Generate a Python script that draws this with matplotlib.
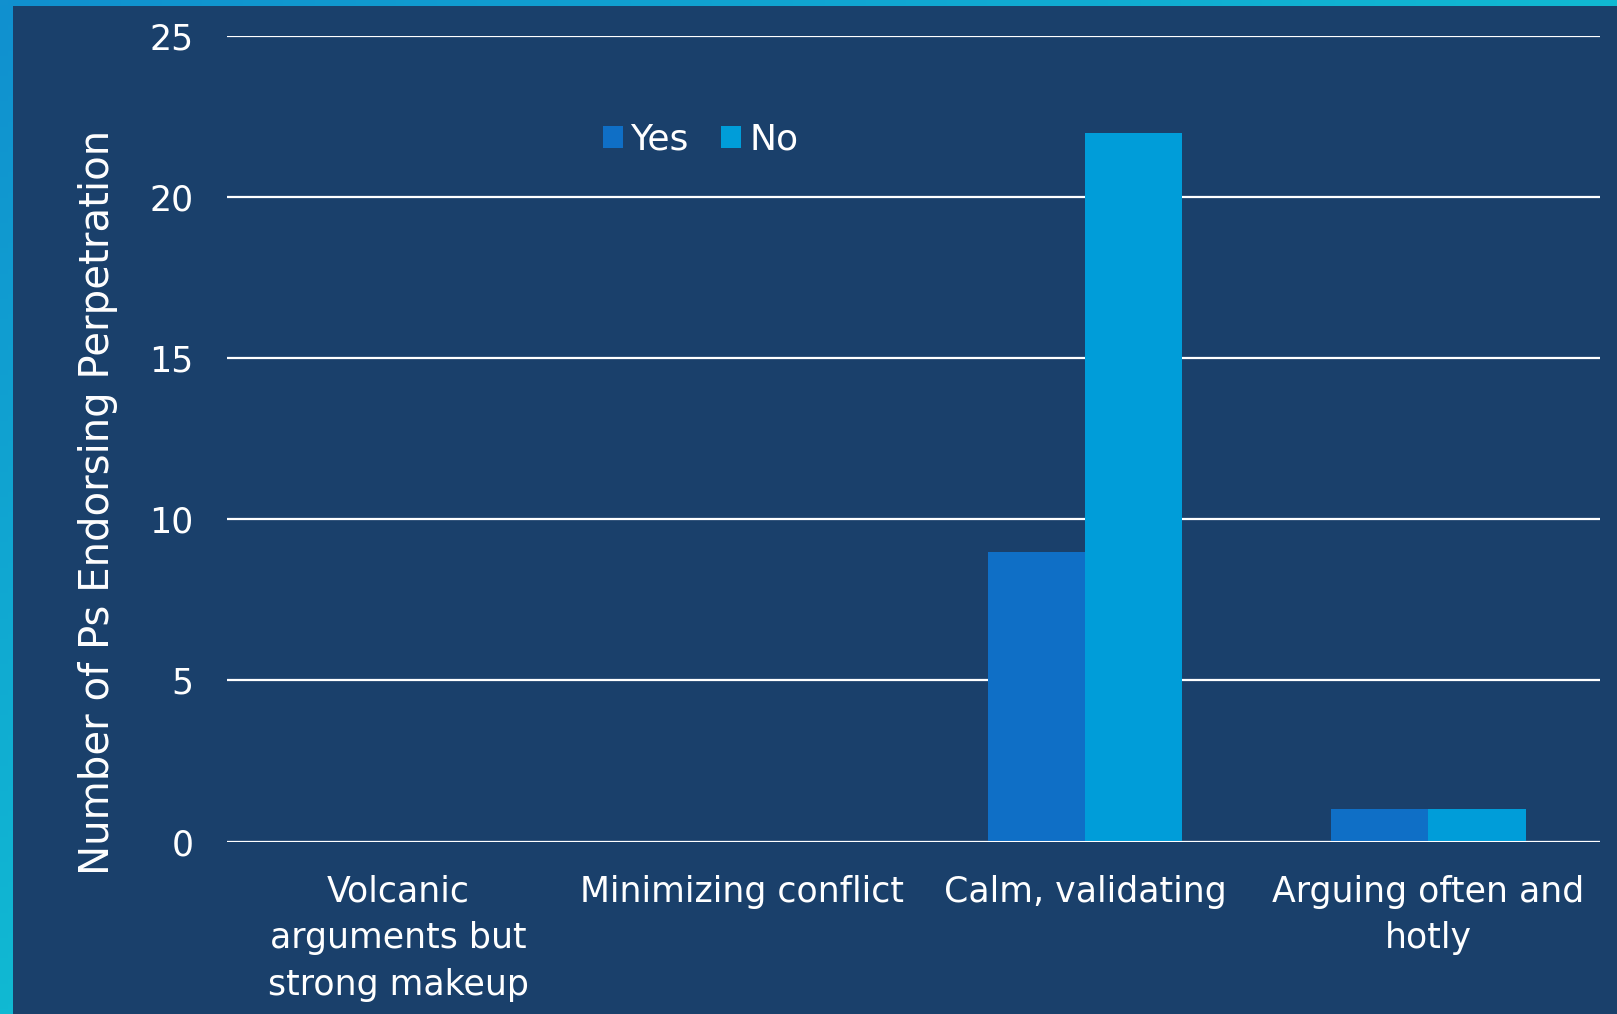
import numpy as np
import matplotlib
matplotlib.use("Agg")
import matplotlib.pyplot as plt
from matplotlib.patches import Rectangle
from matplotlib.colors import LinearSegmentedColormap

categories = ["Volcanic\narguments but\nstrong makeup", "Minimizing conflict",
              "Calm, validating", "Arguing often and\nhotly"]
yes_vals = [0, 0, 9, 1]
no_vals = [0, 0, 22, 1]
series_names = ["Yes", "No"]
yticks = [0, 5, 10, 15, 20, 25]
ylabel = "Number of Ps Endorsing Perpetration"

BG = "#1A406B"
C_YES = "#0F6FC6"
C_NO = "#009DD9"

plt.rcParams['font.family'] = ['DejaVu Sans']

W, H = 1617, 1014
fig = plt.figure(figsize=(W / 100, H / 100), dpi=100)
fig.patch.set_facecolor(BG)

# gradient frame
bg_ax = fig.add_axes([0, 0, 1, 1], zorder=-10)
bg_ax.set_axis_off()
xx, yy = np.meshgrid(np.linspace(0, 1, 200), np.linspace(0, 1, 200))
t = np.clip(xx + yy, 0, 1)
cmap = LinearSegmentedColormap.from_list("g", ["#1190CF", "#10B9D3"])
bg_ax.imshow(t, cmap=cmap, extent=[0, 1, 0, 1], origin="upper", aspect="auto")
bg_ax.add_patch(Rectangle((13 / W, 0), 1, 1 - 6 / H, color=BG, transform=bg_ax.transAxes, lw=0))
bg_ax.set_xlim(0, 1)
bg_ax.set_ylim(0, 1)

ax = fig.add_axes([227 / W, 1 - 841.5 / H, (1600 - 227) / W, (841.5 - 36) / H])
ax.set_facecolor("none")
x = np.arange(len(categories))
bw = 0.283
ax.bar(x - bw / 2, yes_vals, bw, color=C_YES, label=series_names[0], zorder=3)
ax.bar(x + bw / 2, no_vals, bw, color=C_NO, label=series_names[1], zorder=3)

ax.set_xlim(-0.5, len(categories) - 0.5)
ax.set_ylim(0, 25)
ax.set_yticks(yticks)
ax.yaxis.grid(True, color="white", lw=1.6, zorder=1)
for s in ax.spines.values():
    s.set_visible(False)
ax.axhline(0, color="white", lw=2.2, zorder=4)
ax.tick_params(axis="both", length=0, colors="white", labelsize=25)
ax.tick_params(axis="y", pad=24)
ax.tick_params(axis="x", pad=24)
ax.set_xticks(x)
ax.set_xticklabels(categories, linespacing=1.46, va="top")
ax.set_ylabel(ylabel, color="white", fontsize=29)
ax.yaxis.set_label_coords(-0.094, 0.421)
ax.yaxis.label.set_va("center")

leg = ax.legend(loc="center left", bbox_to_anchor=(0.25, 0.871), ncol=2, frameon=False,
                fontsize=26, handlelength=0.55, handleheight=0.55, handletextpad=0.22,
                columnspacing=0.9, labelcolor="white")

fig.savefig("out.png", dpi=100, facecolor=fig.get_facecolor())
